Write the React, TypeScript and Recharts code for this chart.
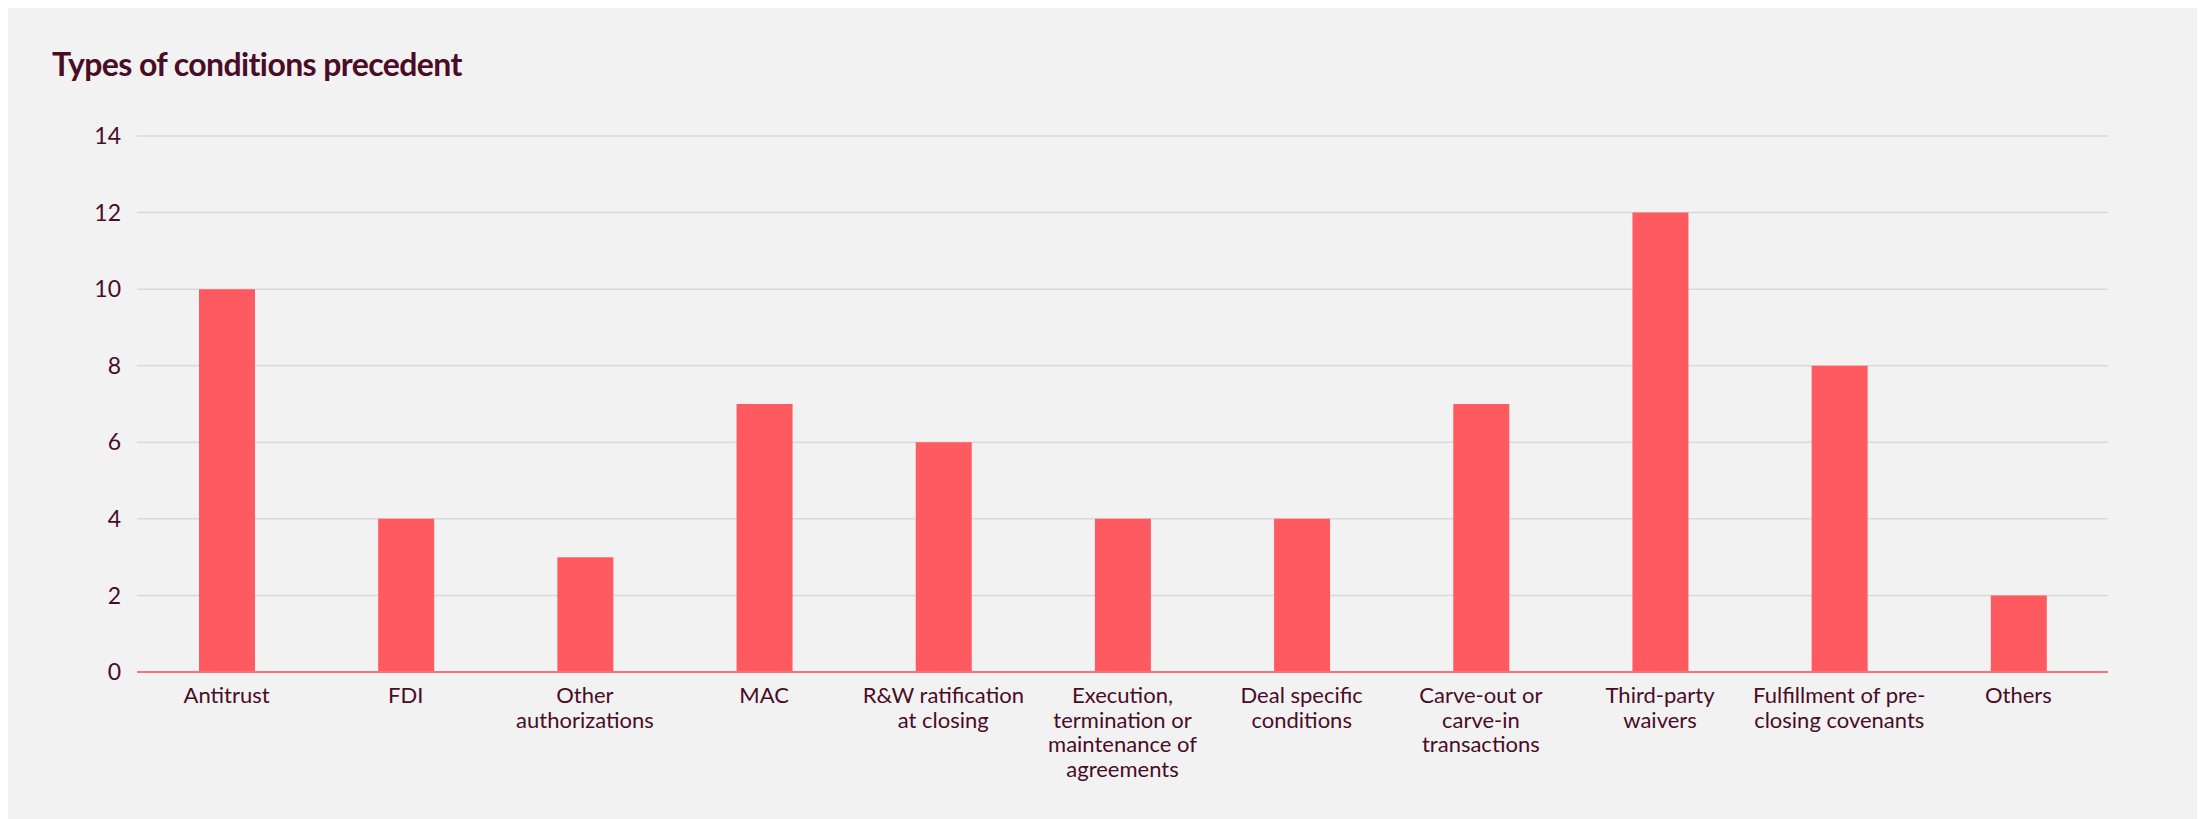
import React from "react";
import { BarChart, Bar, XAxis, YAxis, CartesianGrid } from "recharts";

const categories: string[] = [
  "Antitrust",
  "FDI",
  "Other\nauthorizations",
  "MAC",
  "R&W ratification\nat closing",
  "Execution,\ntermination or\nmaintenance of\nagreements",
  "Deal specific\nconditions",
  "Carve-out or\ncarve-in\ntransactions",
  "Third-party\nwaivers",
  "Fulfillment of pre-\nclosing covenants",
  "Others",
];
const values: number[] = [10, 4, 3, 7, 6, 4, 4, 7, 12, 8, 2];
const yTicks: number[] = [0, 2, 4, 6, 8, 10, 12, 14];
const title = "Types of conditions precedent";

const data = categories.map((c, i) => ({ name: c, value: values[i] }));

const TEXT = "#4a0c26";
const FONT = "Lato, 'Noto Sans', sans-serif";

const XTick = (props: any) => {
  const { x, y, payload } = props;
  const lines = String(payload.value).split("\n");
  return (
    <text x={x} y={y + 31} textAnchor="middle" fill={TEXT} fontSize={22} fontFamily={FONT}>
      {lines.map((l, i) => (
        <tspan key={i} x={x} dy={i === 0 ? 0 : 24.5}>
          {l}
        </tspan>
      ))}
    </text>
  );
};

export default function App() {
  return (
    <div
      style={{
        position: "relative",
        width: 2189,
        height: 811,
        background: "#f2f2f2",
        fontFamily: FONT,
      }}
    >
      <div
        style={{
          position: "absolute",
          left: 44,
          top: 40,
          fontSize: 32,
          lineHeight: 1,
          fontWeight: 700,
          color: TEXT,
          letterSpacing: -0.6,
          whiteSpace: "nowrap",
        }}
      >
        {title}
      </div>
      <BarChart
        width={2189}
        height={811}
        data={data}
        margin={{ top: 128, right: 89, left: 0, bottom: 0 }}
        style={{ position: "absolute", left: 0, top: 0 }}
      >
        <CartesianGrid vertical={false} stroke="#d9d9d9" strokeWidth={1.5} />
        <YAxis
          width={129}
          domain={[0, 14]}
          ticks={yTicks}
          axisLine={false}
          tickLine={false}
          tickSize={0}
          tickMargin={16}
          tick={{ fill: TEXT, fontSize: 23, fontFamily: FONT }}
        />
        <XAxis
          dataKey="name"
          height={147}
          interval={0}
          tickLine={false}
          tickSize={0}
          tickMargin={0}
          axisLine={{ stroke: "#ff6f75", strokeWidth: 2 }}
          tick={<XTick />}
        />
        <Bar dataKey="value" fill="#ff5a60" barSize={56} isAnimationActive={false} />
      </BarChart>
    </div>
  );
}
